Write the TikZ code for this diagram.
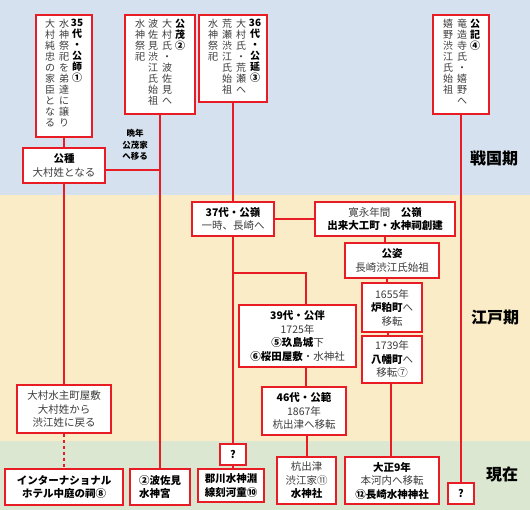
\documentclass[tikz,border=0pt]{standalone}
\usepackage{fontspec}
\setmainfont{Noto Sans CJK JP}
\usetikzlibrary{calc}
\definecolor{myred}{RGB}{232,28,36}
\definecolor{bgblue}{RGB}{213,225,238}
\definecolor{bgyellow}{RGB}{249,236,199}
\definecolor{bggreen}{RGB}{219,231,208}
\definecolor{txtgray}{RGB}{60,60,60}
\makeatletter
\newcommand\vcol[1]{\vbox{\baselineskip=11pt\lineskiplimit=-6pt\@tfor\vc:=#1\do{\hbox to 11pt{\hss\vc\hss}}}}
\makeatother
\newcommand\bd[1]{{\bfseries\color{black}#1}}
\tikzset{
  box/.style={draw=myred, line width=1.3pt, fill=white, inner sep=0pt, text=txtgray, align=center, font=\fontsize{10.5}{13.5}\selectfont},
  vtext/.style={anchor=north, inner sep=0pt, text=txtgray, font=\fontsize{10}{11}\selectfont},
  conn/.style={draw=myred, line width=1.3pt},
  era/.style={font=\fontsize{16}{18}\selectfont\bfseries, inner sep=0pt}
}
\begin{document}
\begin{tikzpicture}[x=1pt,y=-1pt]
\useasboundingbox (0,0) rectangle (530,510);
\fill[bgblue] (0,0) rectangle (530,195);
\fill[bgyellow] (0,195) rectangle (530,441);
\fill[bggreen] (0,441) rectangle (530,510);

\node[era] (era1) at (494,158) {戦国期};
\node[era] (era2) at (495,318) {江戸期};
\node[era] (era3) at (502,474) {現在};

% vertical boxes
\node[box, minimum width=56pt, minimum height=122pt] (A) at (64,76) {};
\node[vtext] (A1) at (77,19) {\vcol{{\bd{35}}{\bd{代}}{\bd{・}}{\bd{公}}{\bd{師}}{\bd{①}}}};
\node[vtext] (A2) at (64,19) {\vcol{水神祭祀を弟達に譲り}};
\node[vtext] (A3) at (50,19) {\vcol{大村純忠の家臣となる}};

\node[box, minimum width=70pt, minimum height=99pt] (B) at (160,64.5) {};
\node[vtext] (B1) at (180,19) {\vcol{{\bd{公}}{\bd{茂}}{\bd{②}}}};
\node[vtext] (B2) at (167,19) {\vcol{大村氏・波佐見へ}};
\node[vtext] (B3) at (153,19) {\vcol{波佐見渋江氏始祖}};
\node[vtext] (B4) at (140,19) {\vcol{水神祭祀}};

\node[box, minimum width=68pt, minimum height=87pt] (C) at (233,58.5) {};
\node[vtext] (C1) at (255,19) {\vcol{{\bd{36}}{\bd{代}}{\bd{・}}{\bd{公}}{\bd{延}}{\bd{③}}}};
\node[vtext] (C2) at (241,19) {\vcol{大村氏・荒瀬へ}};
\node[vtext] (C3) at (227,19) {\vcol{荒瀬渋江氏始祖}};
\node[vtext] (C4) at (213,19) {\vcol{水神祭祀}};

\node[box, minimum width=56pt, minimum height=99pt] (D) at (461,64.5) {};
\node[vtext] (D1) at (475,19) {\vcol{{\bd{公}}{\bd{記}}{\bd{④}}}};
\node[vtext] (D2) at (462,19) {\vcol{竜造寺氏・嬉野へ}};
\node[vtext] (D3) at (448,19) {\vcol{嬉野渋江氏始祖}};

% horizontal boxes
\node[box, minimum width=82pt, minimum height=35pt] (E) at (64,165.5) {\bd{公種}\\大村姓となる};
\node[font=\fontsize{8.5}{11.5}\selectfont\bfseries, align=center, inner sep=0pt] (late) at (135,145) {晩年\\公茂家\\へ移る};

\node[box, minimum width=82pt, minimum height=34pt] (F) at (233,219) {\bd{37代・公嶺}\\一時、長崎へ};
\node[box, minimum width=140pt, minimum height=34pt] (G) at (385,219) {寛永年間　\bd{公嶺}\\\bd{出来大工町・水神祠創建}};
\node[box, minimum width=94pt, minimum height=35pt] (H) at (392,260.5) {\bd{公姿}\\長崎渋江氏始祖};
\node[box, minimum width=60pt, minimum height=49pt] (I) at (392,307.5) {1655年\\\bd{炉粕町}へ\\移転};
\node[box, minimum width=60pt, minimum height=47pt] (J) at (392,359.5) {1739年\\\bd{八幡町}へ\\移転⑦};
\node[box, minimum width=117pt, minimum height=62pt] (K) at (297.5,336) {\bd{39代・公伴}\\1725年\\\bd{⑤玖島城}下\\\bd{⑥桜田屋敷}・水神社};
\node[box, minimum width=84pt, minimum height=48pt] (L) at (304,411) {\bd{46代・公範}\\1867年\\杭出津へ移転};
\node[box, minimum width=59pt, minimum height=47pt] (M) at (306.5,480.5) {杭出津\\渋江家⑪\\\bd{水神社}};
\node[box, minimum width=94pt, minimum height=47pt] (N) at (392,480.5) {\bd{大正9年}\\本河内へ移転\\\bd{⑫長崎水神神社}};
\node[box, minimum width=26pt, minimum height=21pt] (O) at (461,493.5) {\bd{?}};
\node[box, minimum width=26pt, minimum height=21pt] (P) at (233,454.5) {\bd{?}};
\node[box, minimum width=66pt, minimum height=33pt] (Q) at (231,485.5) {\bd{郡川水神淵}\\\bd{線刻河童⑩}};
\node[box, minimum width=60pt, minimum height=36pt, align=left] (R) at (160,487) {\bd{②波佐見}\\\bd{水神宮}};
\node[box, minimum width=118pt, minimum height=36pt] (S) at (64,487) {\bd{インターナショナル}\\\bd{ホテル中庭の祠⑧}};
\node[box, minimum width=94pt, minimum height=48pt] (T) at (64,409) {大村水主町屋敷\\大村姓から\\渋江姓に戻る};

% connectors
\coordinate (e1) at ($(E.east)+(0,4.5)$);
\coordinate (k1) at (233,273);
\coordinate (k2) at (306,273);
\coordinate (hi) at ($(H.south)+(-5,0)$);
\coordinate (ij) at ($(I.south)+(-4,0)$);
\coordinate (jn) at ($(J.south)+(-1,0)$);
\coordinate (lm) at ($(L.south)+(3,0)$);
\draw[conn] (A.south) -- (E.north);
\draw[conn] (e1) -- (e1 -| B.south);
\draw[conn] (B.south) -- (B.south |- R.north);
\draw[conn] (C.south) -- (F.north);
\draw[conn] (F.south) -- (F.south |- P.north);
\draw[conn] (P.south) -- (P.south |- Q.north);
\draw[conn] (F.east) -- (G.west);
\draw[conn] (G.south) -- (G.south |- H.north);
\draw[conn] (hi) -- (hi |- I.north);
\draw[conn] (ij) -- (ij |- J.north);
\draw[conn] (jn) -- (jn |- N.north);
\draw[conn] (D.south) -- (D.south |- O.north);
\draw[conn] (k1) -- (k2) -- (k2 |- K.north);
\draw[conn] (k2 |- K.south) -- (k2 |- L.north);
\draw[conn] (lm) -- (lm |- M.north);
\draw[conn] (E.south) -- (E.south |- T.north);
\draw[conn, dashed] (T.south) -- (T.south |- S.north);
\end{tikzpicture}
\end{document}
